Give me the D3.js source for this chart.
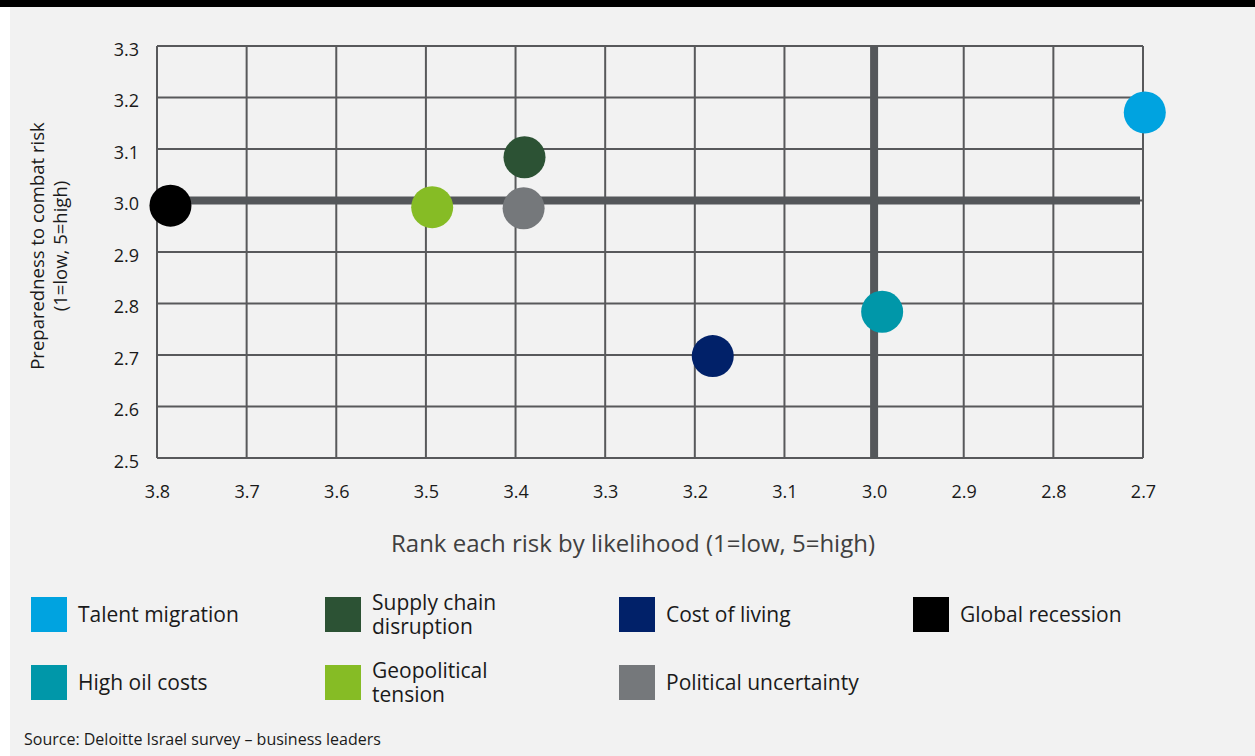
<!DOCTYPE html>
<html>
<head>
<meta charset="utf-8">
<script src="https://cdn.jsdelivr.net/npm/d3@7"></script>
<style>
  html, body { margin: 0; padding: 0; background: #fff; }
  svg { display: block; font-family: "Open Sans", "Noto Sans", sans-serif; }
</style>
</head>
<body>
<script>
// risks
const risks = ["Talent migration", "Supply chain disruption", "Cost of living", "Global recession",
               "High oil costs", "Geopolitical tension", "Political uncertainty"];
const likelihood   = [2.698, 3.390, 3.180, 3.785, 2.991, 3.493, 3.391];
const preparedness = [3.171, 3.084, 2.698, 2.990, 2.784, 2.987, 2.985];
const riskColors   = ["#00a3e0", "#2c5234", "#012169", "#000000", "#0097a9", "#86bc25", "#75787b"];
const legendLines  = [["Talent migration"], ["Supply chain", "disruption"], ["Cost of living"], ["Global recession"],
                      ["High oil costs"], ["Geopolitical", "tension"], ["Political uncertainty"]];

const xTicks = [3.8, 3.7, 3.6, 3.5, 3.4, 3.3, 3.2, 3.1, 3.0, 2.9, 2.8, 2.7];
const yTicks = [3.3, 3.2, 3.1, 3.0, 2.9, 2.8, 2.7, 2.6, 2.5];

const width = 1255, height = 756;
const gridColor = "#58595b";

const svg = d3.select("body").append("svg")
    .attr("width", width)
    .attr("height", height);

// panel + top black bar
svg.append("rect").attr("x", 10).attr("y", 0).attr("width", width - 10).attr("height", height).attr("fill", "#f2f2f2");
svg.append("rect").attr("x", 0).attr("y", 0).attr("width", width).attr("height", 7).attr("fill", "#000");

// reversed x axis (high likelihood on the left)
const x = d3.scaleLinear().domain([3.8, 2.7]).range([157, 1143]);
const y = d3.scaleLinear().domain([3.3, 2.5]).range([46, 458]);

const plot = svg.append("g");

// grid
plot.selectAll(".vgrid")
  .data(xTicks)
  .enter().append("line")
    .attr("class", "vgrid")
    .attr("x1", d => x(d)).attr("x2", d => x(d))
    .attr("y1", y(3.3)).attr("y2", y(2.5))
    .attr("stroke", gridColor)
    .attr("stroke-width", 2)

plot.selectAll(".hgrid")
  .data(yTicks)
  .enter().append("line")
    .attr("class", "hgrid")
    .attr("x1", x(3.8)).attr("x2", x(2.7))
    .attr("y1", d => y(d)).attr("y2", d => y(d))
    .attr("stroke", gridColor)
    .attr("stroke-width", 2)

// the two thick quadrant lines at 3.0
plot.append("line")
    .attr("x1", x(3.8)).attr("x2", x(2.7) - 3)
    .attr("y1", y(3.0)).attr("y2", y(3.0))
    .attr("stroke", "#54575a")
    .attr("stroke-width", 8)
plot.append("line")
    .attr("x1", x(3.0)).attr("x2", x(3.0))
    .attr("y1", y(3.3)).attr("y2", y(2.5))
    .attr("stroke", "#54575a")
    .attr("stroke-width", 8)

// axes (labels only)
const xAxis = d3.axisBottom(x).tickValues(xTicks).tickSize(0).tickPadding(27).tickFormat(d3.format(".1f"));
const yAxis = d3.axisLeft(y).tickValues(yTicks).tickSize(0).tickPadding(18).tickFormat(d3.format(".1f"));

const gx = svg.append("g")
    .attr("transform", `translate(0, ${y(2.5)})`)
    .call(xAxis)
gx.select(".domain").remove()
gx.selectAll("text")
    .style("font-size", "18px")
    .style("font-family", "'Open Sans', sans-serif")
    .attr("fill", "#1a1a1a")

const gy = svg.append("g")
    .attr("transform", `translate(${x(3.8)}, 0)`)
    .call(yAxis)
gy.select(".domain").remove()
gy.selectAll("text")
    .style("font-size", "18px")
    .style("font-family", "'Open Sans', sans-serif")
    .attr("fill", "#1a1a1a")
    .attr("dy", "0.5em")

// axis titles
svg.append("text")
    .attr("x", 633)
    .attr("y", 552)
    .attr("text-anchor", "middle")
    .style("font-size", "24px")
    .attr("fill", "#404040")
    .text("Rank each risk by likelihood (1=low, 5=high)")

const yTitle = svg.append("text")
    .attr("transform", "translate(44, 246) rotate(-90)")
    .attr("text-anchor", "middle")
    .style("font-size", "18.5px")
    .attr("fill", "#1a1a1a")
yTitle.append("tspan").attr("x", 0).attr("y", 0).text("Preparedness to combat risk")
yTitle.append("tspan").attr("x", 0).attr("y", 23).text("(1=low, 5=high)")

// dots
const order = [3, 5, 6, 1, 2, 4, 0];
svg.selectAll(".dot")
  .data(order)
  .enter().append("circle")
    .attr("class", "dot")
    .attr("cx", i => x(likelihood[i]))
    .attr("cy", i => y(preparedness[i]))
    .attr("r", 21)
    .attr("fill", i => riskColors[i])

// legend
const legendCol = d3.scaleLinear().domain([0, 1]).range([31, 325]);
const legend = svg.selectAll(".legend")
  .data(risks)
  .enter().append("g")
    .attr("class", "legend")
    .attr("transform", (d, i) => `translate(${legendCol(i % 4)}, ${i < 4 ? 597 : 665})`)

legend.append("rect")
    .attr("width", 36)
    .attr("height", 35)
    .attr("fill", (d, i) => riskColors[i])

legend.each(function(d, i) {
  const lines = legendLines[i];
  const t = d3.select(this).append("text")
      .style("font-size", "21px")
      .attr("fill", "#1a1a1a")
  lines.forEach((l, j) => {
    t.append("tspan")
        .attr("x", 47)
        .attr("y", 17.5 + (j - (lines.length - 1) / 2) * 24)
        .attr("dy", "0.35em")
        .text(l)
  })
})

// source
svg.append("text")
    .attr("x", 24)
    .attr("y", 745)
    .style("font-size", "16px")
    .attr("fill", "#1a1a1a")
    .text("Source: Deloitte Israel survey – business leaders")
</script>
</body>
</html>
